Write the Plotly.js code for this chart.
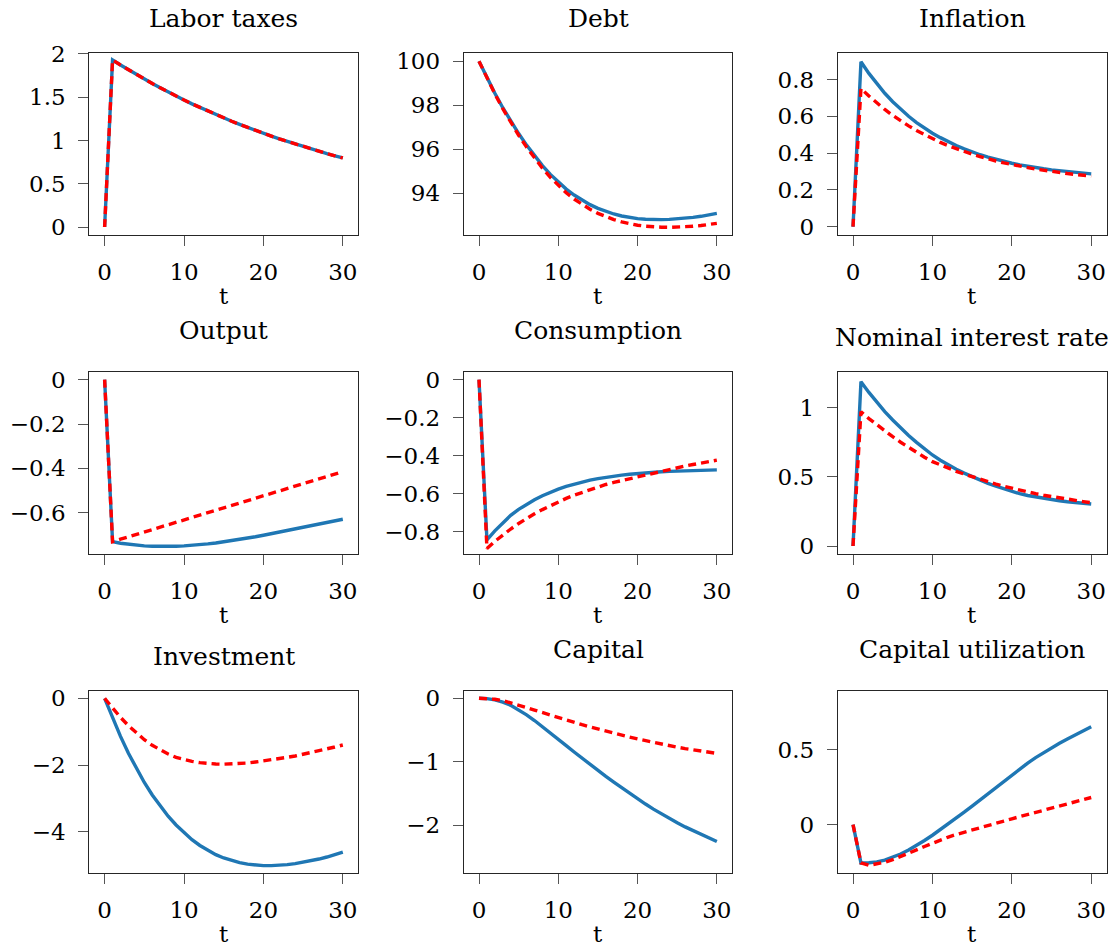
<!DOCTYPE html>
<html><head><meta charset="utf-8">
<script src="https://cdn.plot.ly/plotly-3.0.1.min.js"></script>
<style>html,body{margin:0;padding:0;background:#fff;}#chart{width:1115px;height:947px;}</style>
</head><body><div id="chart"></div>
<script>
// ---------- data ----------
const t = [0,1,2,3,4,5,6,7,8,9,10,11,12,13,14,15,16,17,18,19,20,21,22,23,24,25,26,27,28,29,30];

const titles = ["Labor taxes","Debt","Inflation","Output","Consumption","Nominal interest rate","Investment","Capital","Capital utilization"];

const laborBlue = [0,1.930,1.872,1.816,1.762,1.709,1.657,1.608,1.559,1.513,1.467,1.423,1.381,1.339,1.299,1.260,1.222,1.186,1.150,1.116,1.082,1.050,1.018,0.988,0.958,0.929,0.901,0.874,0.848,0.823,0.798];
const laborRed  = [0,1.930,1.872,1.816,1.762,1.709,1.657,1.608,1.559,1.513,1.467,1.423,1.381,1.339,1.299,1.260,1.222,1.186,1.150,1.116,1.082,1.050,1.018,0.988,0.958,0.929,0.901,0.874,0.848,0.823,0.798];

const debtBlue = [100.00,99.245,98.54,97.885,97.275,96.71,96.185,95.70,95.255,94.855,94.50,94.185,93.915,93.68,93.48,93.31,93.17,93.055,92.965,92.895,92.845,92.815,92.80,92.80,92.81,92.83,92.86,92.90,92.95,93.01,93.08];
const debtRed  = [100.00,99.23,98.51,97.84,97.215,96.635,96.095,95.595,95.135,94.72,94.35,94.02,93.735,93.485,93.27,93.085,92.93,92.80,92.695,92.61,92.545,92.50,92.47,92.455,92.45,92.455,92.47,92.495,92.53,92.575,92.63];

const inflBlue = [0,0.896,0.833,0.777,0.725,0.679,0.638,0.600,0.566,0.536,0.508,0.484,0.461,0.441,0.423,0.406,0.391,0.378,0.366,0.355,0.345,0.336,0.328,0.321,0.315,0.309,0.304,0.299,0.295,0.291,0.287];
const inflRed  = [0,0.751,0.710,0.672,0.637,0.605,0.575,0.548,0.523,0.500,0.478,0.458,0.440,0.424,0.408,0.394,0.381,0.368,0.357,0.347,0.337,0.329,0.321,0.313,0.306,0.300,0.294,0.289,0.284,0.279,0.275];

const outputBlue = [0,-0.731,-0.738,-0.743,-0.747,-0.750,-0.752,-0.753,-0.753,-0.752,-0.750,-0.748,-0.745,-0.741,-0.737,-0.732,-0.727,-0.721,-0.715,-0.709,-0.702,-0.695,-0.688,-0.681,-0.674,-0.667,-0.659,-0.652,-0.645,-0.637,-0.630];
const outputRed  = [0,-0.731,-0.720,-0.709,-0.698,-0.687,-0.676,-0.666,-0.655,-0.644,-0.633,-0.622,-0.611,-0.600,-0.589,-0.578,-0.568,-0.557,-0.546,-0.535,-0.524,-0.513,-0.502,-0.491,-0.480,-0.469,-0.459,-0.448,-0.437,-0.426,-0.415];

const consBlue = [0,-0.842,-0.795,-0.751,-0.713,-0.682,-0.655,-0.631,-0.610,-0.591,-0.575,-0.561,-0.549,-0.538,-0.528,-0.520,-0.513,-0.507,-0.502,-0.497,-0.493,-0.490,-0.487,-0.484,-0.482,-0.480,-0.479,-0.477,-0.476,-0.475,-0.474];
const consRed  = [0,-0.888,-0.850,-0.816,-0.785,-0.756,-0.729,-0.705,-0.683,-0.662,-0.642,-0.624,-0.607,-0.592,-0.577,-0.563,-0.551,-0.540,-0.530,-0.520,-0.511,-0.501,-0.491,-0.481,-0.471,-0.462,-0.454,-0.446,-0.438,-0.430,-0.423];

const rateBlue = [0,1.188,1.110,1.039,0.972,0.911,0.853,0.799,0.749,0.702,0.658,0.620,0.586,0.555,0.527,0.501,0.476,0.453,0.432,0.412,0.393,0.378,0.365,0.354,0.344,0.335,0.327,0.320,0.314,0.309,0.304];
const rateRed  = [0,0.971,0.921,0.875,0.831,0.790,0.750,0.712,0.676,0.642,0.610,0.585,0.562,0.540,0.520,0.501,0.482,0.464,0.448,0.432,0.417,0.403,0.390,0.378,0.367,0.357,0.347,0.338,0.329,0.321,0.313];

const invBlue = [0,-0.59,-1.14,-1.65,-2.11,-2.525,-2.90,-3.235,-3.535,-3.80,-4.035,-4.24,-4.415,-4.565,-4.69,-4.79,-4.87,-4.93,-4.975,-5.005,-5.02,-5.02,-5.01,-4.99,-4.96,-4.922,-4.876,-4.822,-4.761,-4.693,-4.618];
const invRed  = [0,-0.30,-0.57,-0.82,-1.04,-1.24,-1.41,-1.55,-1.67,-1.77,-1.84,-1.89,-1.93,-1.955,-1.97,-1.975,-1.97,-1.96,-1.94,-1.91,-1.88,-1.85,-1.81,-1.77,-1.73,-1.68,-1.63,-1.58,-1.52,-1.46,-1.40];

const capBlue = [0,-0.005,-0.025,-0.06,-0.11,-0.18,-0.26,-0.35,-0.445,-0.545,-0.645,-0.745,-0.845,-0.945,-1.04,-1.135,-1.23,-1.32,-1.41,-1.50,-1.585,-1.665,-1.745,-1.82,-1.89,-1.96,-2.025,-2.085,-2.145,-2.20,-2.255];
const capRed  = [0,-0.004,-0.015,-0.035,-0.068,-0.105,-0.145,-0.186,-0.226,-0.266,-0.305,-0.343,-0.380,-0.416,-0.451,-0.485,-0.518,-0.550,-0.581,-0.611,-0.640,-0.668,-0.695,-0.721,-0.746,-0.770,-0.792,-0.813,-0.832,-0.850,-0.867];

const utilBlue = [0,-0.256,-0.255,-0.249,-0.237,-0.219,-0.196,-0.169,-0.139,-0.106,-0.071,-0.034,0.004,0.043,0.083,0.124,0.166,0.208,0.250,0.292,0.333,0.373,0.411,0.447,0.481,0.513,0.543,0.572,0.600,0.627,0.653];
const utilRed  = [0,-0.256,-0.272,-0.264,-0.251,-0.234,-0.214,-0.192,-0.169,-0.146,-0.124,-0.103,-0.083,-0.066,-0.050,-0.035,-0.020,-0.005,0.010,0.024,0.039,0.053,0.067,0.081,0.095,0.110,0.124,0.138,0.152,0.166,0.181];

const xTickVals = [0,10,20,30];
const xTickText = ["0","10","20","30"];
const xLabel = "t";

const laborTicks = [0,0.5,1,1.5,2];        const laborTickText = ["0","0.5","1","1.5","2"];
const debtTicks = [94,96,98,100];          const debtTickText = ["94","96","98","100"];
const inflTicks = [0,0.2,0.4,0.6,0.8];     const inflTickText = ["0","0.2","0.4","0.6","0.8"];
const outputTicks = [-0.6,-0.4,-0.2,0];    const outputTickText = ["\u22120.6","\u22120.4","\u22120.2","0"];
const consTicks = [-0.8,-0.6,-0.4,-0.2,0]; const consTickText = ["\u22120.8","\u22120.6","\u22120.4","\u22120.2","0"];
const rateTicks = [0,0.5,1];               const rateTickText = ["0","0.5","1"];
const invTicks = [-4,-2,0];                const invTickText = ["\u22124","\u22122","0"];
const capTicks = [-2,-1,0];                const capTickText = ["\u22122","\u22121","0"];
const utilTicks = [0,0.5];                 const utilTickText = ["0","0.5"];

// ---------- layout config ----------
const blueSeries = [laborBlue,debtBlue,inflBlue,outputBlue,consBlue,rateBlue,invBlue,capBlue,utilBlue];
const redSeries  = [laborRed,debtRed,inflRed,outputRed,consRed,rateRed,invRed,capRed,utilRed];
const yTickVals = [laborTicks,debtTicks,inflTicks,outputTicks,consTicks,rateTicks,invTicks,capTicks,utilTicks];
const yTickTexts = [laborTickText,debtTickText,inflTickText,outputTickText,consTickText,rateTickText,invTickText,capTickText,utilTickText];
const yRanges = [[-0.092,2.015],[92.10,100.39],[-0.045,0.946],[-0.788,0.036],[-0.918,0.042],[-0.060,1.260],[-5.25,0.23],[-2.756,0.12],[-0.325,0.894]];
const xRange = [-1.93,31.95];

const W = 1115, H = 947;
const colPx = [[89.3,358.3],[463.7,732.3],[837.7,1106.7]];
const rowPx = [[52.6,235.0],[371.7,554.3],[690.7,873.3]];

const FONT = "DejaVu Serif";
const BLUE = "#1f77b4", RED = "#ff0000";

const traces = [];
const layout = {
  width: W, height: H,
  margin: {l:0, r:0, t:0, b:0},
  paper_bgcolor: "#ffffff", plot_bgcolor: "#ffffff",
  showlegend: false,
  font: {family: FONT, size: 23, color: "#000"},
  annotations: []
};

for (let i = 0; i < 9; i++) {
  const r = Math.floor(i / 3), c = i % 3;
  const sfx = i === 0 ? "" : String(i + 1);
  const xd = [colPx[c][0] / W, colPx[c][1] / W];
  const yd = [1 - rowPx[r][1] / H, 1 - rowPx[r][0] / H];
  const common = {
    showline: true, mirror: true, linecolor: "#262626", linewidth: 1,
    ticks: "outside", ticklen: 10, tickwidth: 1, tickcolor: "#555",
    showgrid: false, zeroline: false, fixedrange: true,
    tickfont: {family: FONT, size: 23, color: "#000"}
  };
  layout["xaxis" + sfx] = Object.assign({}, common, {
    domain: xd, range: xRange, anchor: "y" + sfx,
    tickmode: "array", tickvals: xTickVals, ticktext: xTickText,
    ticklabelstandoff: 6
  });
  layout["yaxis" + sfx] = Object.assign({}, common, {
    domain: yd, range: yRanges[i], anchor: "x" + sfx,
    tickmode: "array", tickvals: yTickVals[i], ticktext: yTickTexts[i],
    ticklabelstandoff: 8
  });
  traces.push({x: t, y: blueSeries[i], xaxis: "x" + sfx, yaxis: "y" + sfx,
    type: "scatter", mode: "lines", line: {color: BLUE, width: 3.4}, hoverinfo: "skip"});
  traces.push({x: t, y: redSeries[i], xaxis: "x" + sfx, yaxis: "y" + sfx,
    type: "scatter", mode: "lines", line: {color: RED, width: 3.4, dash: "8px,5px"}, hoverinfo: "skip"});
  const hasDesc = /[gjpqy]/.test(titles[i]);
  layout.annotations.push({
    text: titles[i], xref: "paper", yref: "paper",
    x: (xd[0] + xd[1]) / 2, y: yd[1], xanchor: "center", yanchor: "bottom",
    yshift: hasDesc ? 25 : 18, showarrow: false,
    font: {family: FONT, size: 25, color: "#000"}
  });
  layout.annotations.push({
    text: xLabel, xref: "paper", yref: "paper",
    x: (xd[0] + xd[1]) / 2, y: yd[0], xanchor: "center", yanchor: "top",
    yshift: -46, showarrow: false,
    font: {family: FONT, size: 23, color: "#000"}
  });
}

Plotly.newPlot("chart", traces, layout, {staticPlot: true, displayModeBar: false});
</script>
</body></html>
